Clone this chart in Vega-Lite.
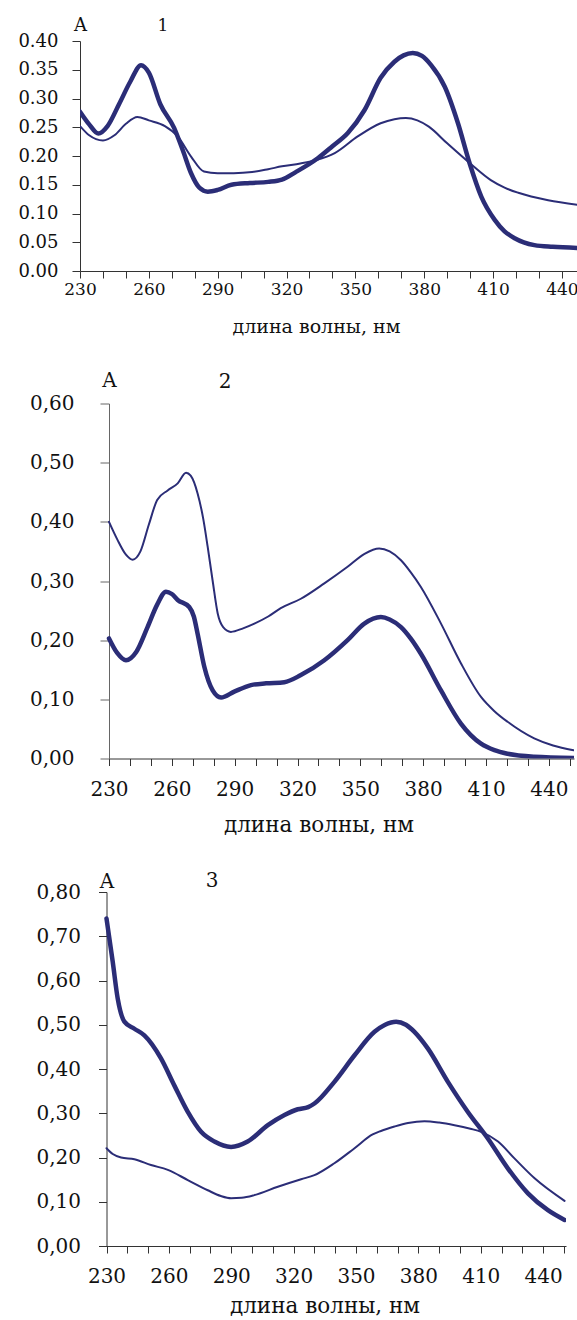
{
  "$schema": "https://vega.github.io/schema/vega-lite/v6.json",
  "padding": {"left": 17, "top": 16, "right": 0, "bottom": 0},
  "spacing": 34.5,
  "config": {
    "view": {"stroke": null},
    "font": "DejaVu Serif",
    "axis": {"grid": false, "labelFont": "DejaVu Serif", "titleFont": "DejaVu Serif", "labelColor": "#111", "titleColor": "#111", "domainColor": "#333", "tickColor": "#333", "titleFontWeight": "normal", "labelOverlap": false, "labelFlush": false},
    "title": {"font": "DejaVu Serif", "fontWeight": "normal", "color": "#111"}
  },
  "datasets": {
    "p1": [
      {"s": "thick", "wl": 230, "a": 0.277}, {"s": "thick", "wl": 234, "a": 0.255}, {"s": "thick", "wl": 238, "a": 0.239}, {"s": "thick", "wl": 242, "a": 0.252}, {"s": "thick", "wl": 247, "a": 0.29}, {"s": "thick", "wl": 252, "a": 0.33}, {"s": "thick", "wl": 256.6, "a": 0.358}, {"s": "thick", "wl": 260, "a": 0.345}, {"s": "thick", "wl": 265, "a": 0.29}, {"s": "thick", "wl": 271, "a": 0.249}, {"s": "thick", "wl": 274.8, "a": 0.21}, {"s": "thick", "wl": 278.4, "a": 0.17}, {"s": "thick", "wl": 282, "a": 0.145}, {"s": "thick", "wl": 285.7, "a": 0.138}, {"s": "thick", "wl": 290, "a": 0.141}, {"s": "thick", "wl": 296, "a": 0.15}, {"s": "thick", "wl": 304, "a": 0.153}, {"s": "thick", "wl": 312, "a": 0.155}, {"s": "thick", "wl": 318, "a": 0.159}, {"s": "thick", "wl": 324, "a": 0.172}, {"s": "thick", "wl": 333.6, "a": 0.196}, {"s": "thick", "wl": 340, "a": 0.217}, {"s": "thick", "wl": 346.7, "a": 0.24}, {"s": "thick", "wl": 354, "a": 0.28}, {"s": "thick", "wl": 361, "a": 0.336}, {"s": "thick", "wl": 367, "a": 0.364}, {"s": "thick", "wl": 371, "a": 0.375}, {"s": "thick", "wl": 375, "a": 0.379}, {"s": "thick", "wl": 379, "a": 0.374}, {"s": "thick", "wl": 383, "a": 0.358}, {"s": "thick", "wl": 389, "a": 0.32}, {"s": "thick", "wl": 394.7, "a": 0.257}, {"s": "thick", "wl": 399.8, "a": 0.187}, {"s": "thick", "wl": 404.9, "a": 0.129}, {"s": "thick", "wl": 410.7, "a": 0.089}, {"s": "thick", "wl": 415, "a": 0.069}, {"s": "thick", "wl": 419.4, "a": 0.057}, {"s": "thick", "wl": 428, "a": 0.045}, {"s": "thick", "wl": 436, "a": 0.042}, {"s": "thick", "wl": 447, "a": 0.04},
      {"s": "thin", "wl": 230, "a": 0.252}, {"s": "thin", "wl": 234, "a": 0.236}, {"s": "thin", "wl": 240, "a": 0.227}, {"s": "thin", "wl": 245, "a": 0.236}, {"s": "thin", "wl": 250, "a": 0.256}, {"s": "thin", "wl": 255, "a": 0.268}, {"s": "thin", "wl": 260, "a": 0.262}, {"s": "thin", "wl": 267, "a": 0.252}, {"s": "thin", "wl": 272.6, "a": 0.234}, {"s": "thin", "wl": 278.4, "a": 0.199}, {"s": "thin", "wl": 284, "a": 0.173}, {"s": "thin", "wl": 290, "a": 0.17}, {"s": "thin", "wl": 297, "a": 0.17}, {"s": "thin", "wl": 305, "a": 0.172}, {"s": "thin", "wl": 312, "a": 0.177}, {"s": "thin", "wl": 318, "a": 0.182}, {"s": "thin", "wl": 326, "a": 0.187}, {"s": "thin", "wl": 333, "a": 0.193}, {"s": "thin", "wl": 341, "a": 0.205}, {"s": "thin", "wl": 351, "a": 0.234}, {"s": "thin", "wl": 361, "a": 0.257}, {"s": "thin", "wl": 367, "a": 0.264}, {"s": "thin", "wl": 372, "a": 0.266}, {"s": "thin", "wl": 377, "a": 0.262}, {"s": "thin", "wl": 382, "a": 0.251}, {"s": "thin", "wl": 390, "a": 0.222}, {"s": "thin", "wl": 400, "a": 0.187}, {"s": "thin", "wl": 409, "a": 0.158}, {"s": "thin", "wl": 415, "a": 0.145}, {"s": "thin", "wl": 421, "a": 0.136}, {"s": "thin", "wl": 434, "a": 0.123}, {"s": "thin", "wl": 447, "a": 0.115}
    ],
    "p2": [
      {"s": "thin", "wl": 230, "a": 0.4}, {"s": "thin", "wl": 234, "a": 0.37}, {"s": "thin", "wl": 238, "a": 0.345}, {"s": "thin", "wl": 241.3, "a": 0.336}, {"s": "thin", "wl": 245, "a": 0.35}, {"s": "thin", "wl": 249, "a": 0.395}, {"s": "thin", "wl": 253, "a": 0.437}, {"s": "thin", "wl": 258, "a": 0.453}, {"s": "thin", "wl": 262.8, "a": 0.465}, {"s": "thin", "wl": 266.8, "a": 0.483}, {"s": "thin", "wl": 269, "a": 0.478}, {"s": "thin", "wl": 272.3, "a": 0.448}, {"s": "thin", "wl": 275, "a": 0.405}, {"s": "thin", "wl": 277.1, "a": 0.358}, {"s": "thin", "wl": 279.5, "a": 0.3}, {"s": "thin", "wl": 281.9, "a": 0.245}, {"s": "thin", "wl": 284.5, "a": 0.222}, {"s": "thin", "wl": 288.2, "a": 0.214}, {"s": "thin", "wl": 294, "a": 0.22}, {"s": "thin", "wl": 299.4, "a": 0.228}, {"s": "thin", "wl": 306, "a": 0.24}, {"s": "thin", "wl": 312, "a": 0.254}, {"s": "thin", "wl": 321.6, "a": 0.27}, {"s": "thin", "wl": 332.8, "a": 0.296}, {"s": "thin", "wl": 343.9, "a": 0.324}, {"s": "thin", "wl": 352, "a": 0.346}, {"s": "thin", "wl": 359, "a": 0.355}, {"s": "thin", "wl": 364, "a": 0.35}, {"s": "thin", "wl": 369.4, "a": 0.335}, {"s": "thin", "wl": 374, "a": 0.315}, {"s": "thin", "wl": 378.9, "a": 0.29}, {"s": "thin", "wl": 388.5, "a": 0.228}, {"s": "thin", "wl": 398, "a": 0.161}, {"s": "thin", "wl": 407.6, "a": 0.104}, {"s": "thin", "wl": 414, "a": 0.08}, {"s": "thin", "wl": 420.3, "a": 0.062}, {"s": "thin", "wl": 433, "a": 0.034}, {"s": "thin", "wl": 442, "a": 0.022}, {"s": "thin", "wl": 451.8, "a": 0.014},
      {"s": "thick", "wl": 230, "a": 0.203}, {"s": "thick", "wl": 234, "a": 0.178}, {"s": "thick", "wl": 238.1, "a": 0.166}, {"s": "thick", "wl": 243, "a": 0.18}, {"s": "thick", "wl": 248.4, "a": 0.222}, {"s": "thick", "wl": 253, "a": 0.26}, {"s": "thick", "wl": 257.2, "a": 0.282}, {"s": "thick", "wl": 260, "a": 0.278}, {"s": "thick", "wl": 262.8, "a": 0.268}, {"s": "thick", "wl": 268.3, "a": 0.256}, {"s": "thick", "wl": 270.5, "a": 0.24}, {"s": "thick", "wl": 272.3, "a": 0.211}, {"s": "thick", "wl": 275.5, "a": 0.155}, {"s": "thick", "wl": 279.5, "a": 0.115}, {"s": "thick", "wl": 283.5, "a": 0.103}, {"s": "thick", "wl": 289.8, "a": 0.113}, {"s": "thick", "wl": 297.8, "a": 0.124}, {"s": "thick", "wl": 305, "a": 0.127}, {"s": "thick", "wl": 313.7, "a": 0.129}, {"s": "thick", "wl": 321.6, "a": 0.141}, {"s": "thick", "wl": 332.8, "a": 0.166}, {"s": "thick", "wl": 343.9, "a": 0.2}, {"s": "thick", "wl": 351.9, "a": 0.228}, {"s": "thick", "wl": 359.8, "a": 0.239}, {"s": "thick", "wl": 364, "a": 0.235}, {"s": "thick", "wl": 369.4, "a": 0.222}, {"s": "thick", "wl": 374, "a": 0.203}, {"s": "thick", "wl": 378.9, "a": 0.177}, {"s": "thick", "wl": 388.5, "a": 0.115}, {"s": "thick", "wl": 398, "a": 0.059}, {"s": "thick", "wl": 407.6, "a": 0.025}, {"s": "thick", "wl": 414, "a": 0.014}, {"s": "thick", "wl": 420.3, "a": 0.008}, {"s": "thick", "wl": 433, "a": 0.003}, {"s": "thick", "wl": 451.8, "a": 0.001}
    ],
    "p3": [
      {"s": "thick", "wl": 230, "a": 0.74}, {"s": "thick", "wl": 233, "a": 0.642}, {"s": "thick", "wl": 235.4, "a": 0.559}, {"s": "thick", "wl": 238.6, "a": 0.507}, {"s": "thick", "wl": 243.4, "a": 0.491}, {"s": "thick", "wl": 248.2, "a": 0.476}, {"s": "thick", "wl": 256.2, "a": 0.424}, {"s": "thick", "wl": 262.6, "a": 0.363}, {"s": "thick", "wl": 269.1, "a": 0.303}, {"s": "thick", "wl": 275.5, "a": 0.258}, {"s": "thick", "wl": 281.9, "a": 0.236}, {"s": "thick", "wl": 289.9, "a": 0.224}, {"s": "thick", "wl": 297.9, "a": 0.236}, {"s": "thick", "wl": 307.6, "a": 0.273}, {"s": "thick", "wl": 315.6, "a": 0.296}, {"s": "thick", "wl": 322, "a": 0.309}, {"s": "thick", "wl": 327, "a": 0.314}, {"s": "thick", "wl": 330, "a": 0.322}, {"s": "thick", "wl": 339.6, "a": 0.371}, {"s": "thick", "wl": 349.3, "a": 0.431}, {"s": "thick", "wl": 358.9, "a": 0.484}, {"s": "thick", "wl": 364, "a": 0.5}, {"s": "thick", "wl": 369.3, "a": 0.507}, {"s": "thick", "wl": 374, "a": 0.5}, {"s": "thick", "wl": 378.1, "a": 0.484}, {"s": "thick", "wl": 384.6, "a": 0.446}, {"s": "thick", "wl": 394.2, "a": 0.371}, {"s": "thick", "wl": 403.8, "a": 0.303}, {"s": "thick", "wl": 413.4, "a": 0.243}, {"s": "thick", "wl": 423.1, "a": 0.175}, {"s": "thick", "wl": 432.7, "a": 0.119}, {"s": "thick", "wl": 442.3, "a": 0.081}, {"s": "thick", "wl": 450.3, "a": 0.059},
      {"s": "thin", "wl": 230, "a": 0.221}, {"s": "thin", "wl": 233, "a": 0.208}, {"s": "thin", "wl": 237, "a": 0.2}, {"s": "thin", "wl": 243.4, "a": 0.196}, {"s": "thin", "wl": 251.4, "a": 0.183}, {"s": "thin", "wl": 259.5, "a": 0.172}, {"s": "thin", "wl": 269.1, "a": 0.149}, {"s": "thin", "wl": 278.7, "a": 0.126}, {"s": "thin", "wl": 285, "a": 0.113}, {"s": "thin", "wl": 289.9, "a": 0.108}, {"s": "thin", "wl": 295, "a": 0.109}, {"s": "thin", "wl": 301.1, "a": 0.115}, {"s": "thin", "wl": 312.4, "a": 0.134}, {"s": "thin", "wl": 323.6, "a": 0.151}, {"s": "thin", "wl": 330, "a": 0.16}, {"s": "thin", "wl": 339.6, "a": 0.187}, {"s": "thin", "wl": 349.3, "a": 0.221}, {"s": "thin", "wl": 358, "a": 0.252}, {"s": "thin", "wl": 362, "a": 0.26}, {"s": "thin", "wl": 368.5, "a": 0.27}, {"s": "thin", "wl": 375, "a": 0.278}, {"s": "thin", "wl": 382.9, "a": 0.282}, {"s": "thin", "wl": 390, "a": 0.279}, {"s": "thin", "wl": 397.4, "a": 0.273}, {"s": "thin", "wl": 405, "a": 0.265}, {"s": "thin", "wl": 410.2, "a": 0.258}, {"s": "thin", "wl": 418.3, "a": 0.236}, {"s": "thin", "wl": 426.2, "a": 0.198}, {"s": "thin", "wl": 435.9, "a": 0.153}, {"s": "thin", "wl": 450.3, "a": 0.102}
    ]
  },
  "vconcat": [
    {
      "width": 498, "height": 230,
      "data": {"name": "p1"},
      "title": {"text": "1", "anchor": "start", "frame": "group", "align": "center", "dx": 83, "offset": -32, "baseline": "alphabetic", "fontSize": 17},
      "mark": {"type": "line", "interpolate": "monotone", "clip": true, "color": "#2b2d77", "strokeCap": "round", "strokeJoin": "round"},
      "encoding": {
        "x": {"field": "wl", "type": "quantitative", "scale": {"domain": [230, 447], "nice": false, "zero": false},
          "axis": {"values": [230, 240, 250, 260, 270, 280, 290, 300, 310, 320, 330, 340, 350, 360, 370, 380, 390, 400, 410, 420, 430, 440], "labelExpr": "(datum.value - 230) % 30 === 0 ? datum.label : ''", "tickSize": 7, "labelPadding": 3, "labelFontSize": 17, "title": "длина волны, нм", "titleFontSize": 19, "titleX": 236, "titleY": 61, "titleAlign": "center", "titleBaseline": "alphabetic"}},
        "y": {"field": "a", "type": "quantitative", "scale": {"domain": [0, 0.4], "nice": false},
          "axis": {"values": [0, 0.05, 0.1, 0.15, 0.2, 0.25, 0.3, 0.35, 0.4], "format": ".2f", "tickSize": 8, "labelPadding": 14, "labelFontSize": 18, "title": "A", "titleAngle": 0, "titleX": 0, "titleY": -11, "titleAlign": "center", "titleBaseline": "alphabetic", "titleFontSize": 18}},
        "strokeWidth": {"field": "s", "type": "nominal", "scale": {"domain": ["thick", "thin"], "range": [4.5, 2]}, "legend": null}
      }
    },
    {
      "width": 494, "height": 355,
      "data": {"name": "p2"},
      "title": {"text": "2", "anchor": "start", "frame": "group", "align": "center", "dx": 145, "offset": -37, "baseline": "alphabetic", "fontSize": 20},
      "mark": {"type": "line", "interpolate": "monotone", "clip": true, "color": "#2b2d77", "strokeCap": "round", "strokeJoin": "round"},
      "encoding": {
        "x": {"field": "wl", "type": "quantitative", "scale": {"domain": [230, 452], "range": [29, 494], "nice": false, "zero": false},
          "axis": {"values": [230, 240, 250, 260, 270, 280, 290, 300, 310, 320, 330, 340, 350, 360, 370, 380, 390, 400, 410, 420, 430, 440, 450], "labelExpr": "(datum.value - 230) % 30 === 0 ? datum.label : ''", "tickSize": 7, "labelPadding": 14, "labelFontSize": 20, "title": "длина волны, нм", "titleFontSize": 21.5, "titleX": 238.5, "titleY": 73, "titleAlign": "center", "titleBaseline": "alphabetic"}},
        "y": {"field": "a", "type": "quantitative", "scale": {"domain": [0, 0.6], "nice": false},
          "axis": {"offset": -29, "values": [0, 0.1, 0.2, 0.3, 0.4, 0.5, 0.6], "labelExpr": "replace(format(datum.value, '.2f'), '.', ',')", "domainColor": "#666", "tickColor": "#666", "tickSize": 9, "labelPadding": 26, "labelFontSize": 20, "title": "A", "titleAngle": 0, "titleX": 0, "titleY": -17, "titleAlign": "center", "titleBaseline": "alphabetic", "titleFontSize": 20}},
        "strokeWidth": {"field": "s", "type": "nominal", "scale": {"domain": ["thick", "thin"], "range": [4.5, 2]}, "legend": null}
      }
    },
    {
      "width": 486, "height": 354,
      "data": {"name": "p3"},
      "title": {"text": "3", "anchor": "start", "frame": "group", "align": "center", "dx": 132, "offset": -36, "baseline": "alphabetic", "fontSize": 20},
      "mark": {"type": "line", "interpolate": "monotone", "clip": true, "color": "#2b2d77", "strokeCap": "round", "strokeJoin": "round"},
      "encoding": {
        "x": {"field": "wl", "type": "quantitative", "scale": {"domain": [230, 451], "range": [26.5, 486], "nice": false, "zero": false},
          "axis": {"values": [230, 240, 250, 260, 270, 280, 290, 300, 310, 320, 330, 340, 350, 360, 370, 380, 390, 400, 410, 420, 430, 440, 450], "labelExpr": "(datum.value - 230) % 30 === 0 ? datum.label : ''", "tickSize": 7, "labelPadding": 13, "labelFontSize": 20, "title": "длина волны, нм", "titleFontSize": 21.5, "titleX": 244.5, "titleY": 66, "titleAlign": "center", "titleBaseline": "alphabetic"}},
        "y": {"field": "a", "type": "quantitative", "scale": {"domain": [0, 0.8], "nice": false},
          "axis": {"offset": -26.5, "values": [0, 0.1, 0.2, 0.3, 0.4, 0.5, 0.6, 0.7, 0.8], "labelExpr": "replace(format(datum.value, '.2f'), '.', ',')", "tickSize": 8, "labelPadding": 18, "labelFontSize": 20, "title": "A", "titleAngle": 0, "titleX": 0, "titleY": -5, "titleAlign": "center", "titleBaseline": "alphabetic", "titleFontSize": 20}},
        "strokeWidth": {"field": "s", "type": "nominal", "scale": {"domain": ["thick", "thin"], "range": [4.5, 2]}, "legend": null}
      }
    }
  ]
}
